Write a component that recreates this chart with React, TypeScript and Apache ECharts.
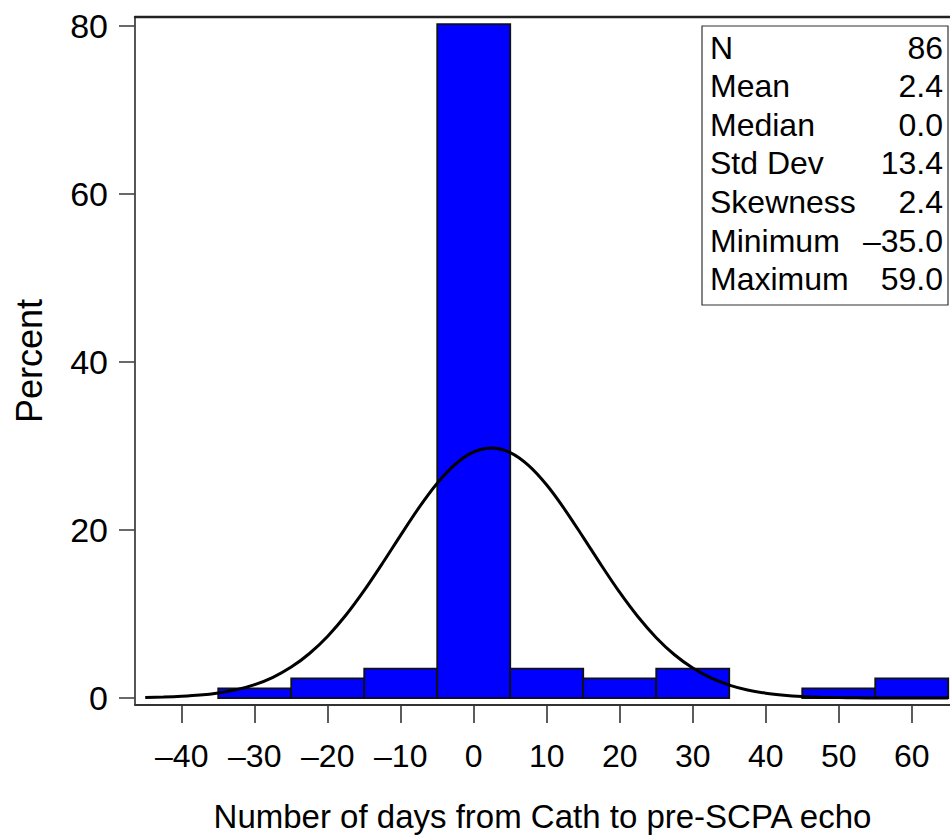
import React, { useEffect, useRef } from "react";
import * as echarts from "echarts";

// Histogram bins: left edge, right edge, percent
const binStarts = [-35, -25, -15, -5, 5, 15, 25, 35, 45, 55];
const binWidth = 10;
const binPercents = [1.16, 2.33, 3.49, 80.23, 3.49, 2.33, 3.49, 0, 1.16, 2.33];

// Fitted normal curve
const curveX = [
  -45, -42.5, -40, -37.5, -35, -32.5, -30, -27.5, -25, -22.5, -20, -17.5, -15, -12.5, -10, -7.5, -5, -2.5, 0,
  2.5, 5, 7.5, 10, 12.5, 15, 17.5, 20, 22.5, 25, 27.5, 30, 32.5, 35, 37.5, 40, 42.5, 45, 47.5, 50, 52.5, 55,
  57.5, 60, 62.5, 65,
];
const curveY = [
  0.06, 0.11, 0.2, 0.35, 0.61, 1.0, 1.6, 2.47, 3.68, 5.3, 7.36, 9.88, 12.81, 16.04, 19.4, 22.66, 25.56, 27.84,
  29.29, 29.77, 29.21, 27.69, 25.35, 22.41, 19.13, 15.78, 12.57, 9.67, 7.18, 5.15, 3.57, 2.39, 1.54, 0.96, 0.58,
  0.34, 0.19, 0.1, 0.05, 0.03, 0.01, 0.01, 0.0, 0.0, 0.0,
];

const xTicks = [-40, -30, -20, -10, 0, 10, 20, 30, 40, 50, 60];
const yTicks = [0, 20, 40, 60, 80];

const statLabels = ["N", "Mean", "Median", "Std Dev", "Skewness", "Minimum", "Maximum"];
const statValues = ["86", "2.4", "0.0", "13.4", "2.4", "\u201335.0", "59.0"];

const FONT = "'Liberation Sans', Arial, Helvetica, sans-serif";

export default function App() {
  const ref = useRef<HTMLDivElement>(null);

  useEffect(() => {
    if (!ref.current) return;
    const chart = echarts.init(ref.current, undefined, { renderer: "svg" });

    const histData = binStarts.map((s, i) => [s, s + binWidth, binPercents[i]]);
    const lineData = curveX.map((x, i) => [x, curveY[i]]);

    const boxLeft = 702;
    const boxTop = 26;
    const boxW = 246;
    const boxH = 279;
    const rowStart = 47.5;
    const rowStep = 38.6;

    const graphics: any[] = [
      {
        type: "rect",
        shape: { x: boxLeft, y: boxTop, width: boxW, height: boxH },
        style: { fill: "#fff", stroke: "#333", lineWidth: 1.2 },
        z: 100,
      },
    ];
    statLabels.forEach((lab, i) => {
      graphics.push({
        type: "text",
        x: boxLeft + 8,
        y: boxTop + rowStart - 26 + i * rowStep,
        style: {
          text: lab,
          fontFamily: FONT,
          fontSize: 32,
          fill: "#000",
          verticalAlign: "middle",
          align: "left",
        },
        z: 101,
      });
      graphics.push({
        type: "text",
        x: boxLeft + boxW - 5,
        y: boxTop + rowStart - 26 + i * rowStep,
        style: {
          text: statValues[i],
          fontFamily: FONT,
          fontSize: 32,
          fill: "#000",
          verticalAlign: "middle",
          align: "right",
        },
        z: 101,
      });
    });

    const option: any = {
      animation: false,
      backgroundColor: "#fff",
      textStyle: { fontFamily: FONT },
      grid: { left: 135, right: 0, top: 17, bottom: 132, containLabel: false },
      xAxis: [
        {
          type: "value",
          min: -46.4,
          max: 65.24,
          position: "bottom",
          axisLine: { show: true, onZero: false, lineStyle: { color: "#333", width: 1.8 } },
          axisTick: { show: true, length: 18, customValues: xTicks, lineStyle: { color: "#333", width: 1.6 } },
          axisLabel: {
            customValues: xTicks,
            fontSize: 32,
            color: "#000",
            margin: 35,
            fontFamily: FONT,
            formatter: (v: number) => String(v).replace("-", "\u2013"),
          },
          splitLine: { show: false },
          name: "Number of days from Cath to pre-SCPA echo",
          nameLocation: "middle",
          nameGap: 95,
          nameTextStyle: { fontSize: 33, color: "#000", fontFamily: FONT },
        },
        {
          type: "value",
          min: -46.4,
          max: 65.24,
          position: "top",
          axisLine: { show: true, onZero: false, lineStyle: { color: "#222", width: 2.4 } },
          axisTick: { show: false },
          axisLabel: { show: false },
          splitLine: { show: false },
        },
      ],
      yAxis: {
        type: "value",
        min: -0.83,
        max: 81.07,
        axisLine: { show: true, onZero: false, lineStyle: { color: "#444", width: 1.8 } },
        axisTick: { show: true, length: 16, customValues: yTicks, lineStyle: { color: "#444", width: 1.6 } },
        axisLabel: { customValues: yTicks, fontSize: 34, color: "#000", margin: 27, fontFamily: FONT },
        splitLine: { show: false },
        name: "Percent",
        nameLocation: "middle",
        nameGap: 88,
        nameTextStyle: { fontSize: 36, color: "#000", fontFamily: FONT },
      },
      series: [
        {
          type: "custom",
          xAxisIndex: 0,
          yAxisIndex: 0,
          renderItem: (params: any, api: any) => {
            const x0 = api.value(0);
            const x1 = api.value(1);
            const v = api.value(2);
            if (!v) return null;
            const p0 = api.coord([x0, v]);
            const p1 = api.coord([x1, 0]);
            return {
              type: "rect",
              shape: { x: p0[0], y: p0[1], width: p1[0] - p0[0], height: p1[1] - p0[1] },
              style: { fill: "#0000FF", stroke: "#111", lineWidth: 1.8 },
            };
          },
          encode: { x: [0, 1], y: 2 },
          data: histData,
          z: 2,
        },
        {
          type: "line",
          xAxisIndex: 0,
          yAxisIndex: 0,
          data: lineData,
          showSymbol: false,
          smooth: 0.3,
          lineStyle: { color: "#000", width: 3 },
          z: 5,
        },
      ],
      graphic: graphics,
    };

    chart.setOption(option);
    return () => chart.dispose();
  }, []);

  return (
    <div
      ref={ref}
      style={{ position: "absolute", left: 0, top: 0, width: 950, height: 838, background: "#fff" }}
    />
  );
}
